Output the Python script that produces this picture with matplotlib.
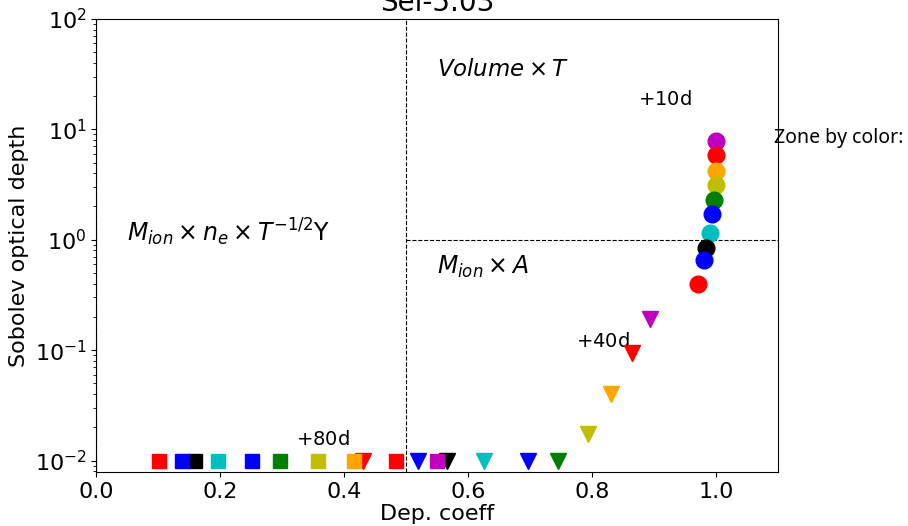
import numpy as np
import matplotlib
matplotlib.use("Agg")
import matplotlib.pyplot as plt

# zone colours, outermost first
colors = ['m', 'r', 'orange', 'y', 'g', 'b', 'c', 'k', 'b', 'r']

# +10d (circles)
dep_10 = [1.000, 1.000, 0.999, 0.999, 0.996, 0.994, 0.990, 0.984, 0.980, 0.971]
tau_10 = [7.8, 5.8, 4.2, 3.13, 2.27, 1.72, 1.15, 0.84, 0.66, 0.40]

# +40d (triangles)
dep_40 = [0.894, 0.865, 0.831, 0.794, 0.745, 0.697, 0.626, 0.565, 0.519, 0.430]
tau_40 = [0.19, 0.094, 0.040, 0.0175, 0.01, 0.01, 0.01, 0.01, 0.01, 0.01]

# +80d (squares)
dep_80 = [0.550, 0.483, 0.416, 0.357, 0.297, 0.251, 0.197, 0.160, 0.138, 0.102]
tau_80 = [0.01] * 10

fig = plt.figure(figsize=(9.08, 5.26), dpi=100)
ax = fig.add_axes([0.106, 0.103, 0.751, 0.861])

for i in range(len(colors)):
    ax.plot(dep_10[i], tau_10[i], 'o', color=colors[i], ms=12, zorder=3)
for i in range(len(colors)):
    ax.plot(dep_40[i], tau_40[i], 'v', color=colors[i], ms=11, zorder=4)
for i in range(len(colors)):
    ax.plot(dep_80[i], tau_80[i], 's', color=colors[i], ms=10, zorder=5)

ax.set_yscale('log')
ax.set_xlim(0, 1.1)
ax.set_ylim(0.0079, 100)

ax.axvline(0.5, color='k', ls='--', lw=0.8)
ax.axvline(0.0, color='k', ls='--', lw=0.8)
ax.plot([0.5, 1.1], [1, 1], 'k--', lw=0.8)

ax.text(0.55, 35, r'$Volume \times T$', fontsize=16.5, va='center')
ax.text(0.55, 0.57, r'$M_{ion} \times A$', fontsize=17, va='center')
ax.text(0.05, 1.16, r'$M_{ion} \times n_e \times T^{-1/2}$Y', fontsize=17, va='center')

ax.text(0.874, 18.5, r'$+$10d', fontsize=14, va='center')
ax.text(0.774, 0.119, r'$+$40d', fontsize=14, va='center')
ax.text(0.323, 0.0155, r'$+$80d', fontsize=14, va='center')

ax.text(1.093, 8.3, 'Zone by color:', fontsize=14, family='Noto Sans',
        va='center', clip_on=False, zorder=0)

ax.set_xticks([0.0, 0.2, 0.4, 0.6, 0.8, 1.0])
ax.tick_params(labelsize=16)
ax.set_xlabel('Dep. coeff', fontsize=16, labelpad=2)
ax.set_ylabel('Sobolev optical depth', fontsize=16)
ax.set_title('Sei-5.03', fontsize=20)

plt.savefig('out.png', dpi=100)
